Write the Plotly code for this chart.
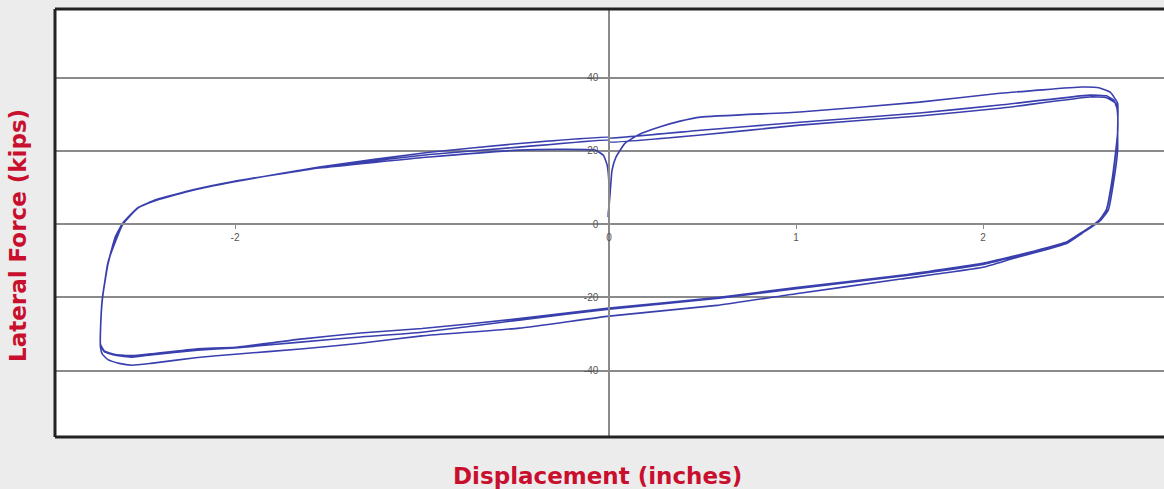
import plotly.graph_objects as go

# ---- data (displacement in inches, force in kips) ----
# cycle 1: initial loading, top upper-right branch, lowest lower branch
c1_x = [-0.005, 0.005, 0.016, 0.037, 0.086, 0.166, 0.27, 0.38, 0.49, 1.02, 1.66, 2.09, 2.53, 2.62, 2.68, 2.72,
        2.72, 2.72, 2.70, 2.67, 2.63, 2.53, 2.45, 2.27, 2.16, 2.0, 1.56, 1.0, 0.59, 0.0, -0.48, -1.0, -1.33,
        -1.65, -2.0, -2.2, -2.45, -2.55, -2.62, -2.68, -2.71, -2.72, -2.72, -2.71, -2.68, -2.63, -2.60,
        -2.52, -2.42, -2.22, -2.01, -1.55, -0.96, -0.48, 0.0]
c1_y = [1.9, 7.9, 14.7, 18.3, 22.1, 24.6, 26.5, 28.1, 29.2, 30.6, 33.3, 35.7, 37.4, 37.2, 36.0, 33.0,
        25.6, 20.2, 12.0, 3.8, 1.1, -2.5, -5.2, -7.9, -9.4, -11.8, -15.0, -19.0, -22.1, -25.1, -28.4, -30.5,
        -32.5, -34.1, -35.5, -36.4, -38.0, -38.5, -38.0, -37.0, -35.5, -33.6, -29.7, -20.7, -10.5, -3.5, 0.0,
        4.4, 6.5, 9.3, 11.5, 15.6, 19.6, 22.0, 23.7]

# cycle 2
c2_x = [0.0, 0.49, 1.02, 1.66, 2.09, 2.57, 2.66, 2.70, 2.72, 2.72, 2.71, 2.69, 2.66, 2.62, 2.53, 2.45,
        2.27, 2.16, 2.0, 1.56, 1.0, 0.59, 0.0, -0.48, -1.0, -1.33, -1.65, -2.0, -2.2, -2.45, -2.55, -2.64,
        -2.70, -2.72, -2.72, -2.71, -2.68, -2.64, -2.60, -2.52, -2.42, -2.22, -2.01, -1.55, -0.96, -0.48, 0.0]
c2_y = [23.5, 25.6, 27.8, 30.3, 32.5, 35.2, 35.0, 33.8, 31.0, 25.0, 20.0, 12.0, 4.0, 1.0, -2.3, -4.9,
        -7.6, -9.0, -11.0, -14.2, -17.6, -20.2, -23.2, -26.2, -29.5, -30.8, -32.2, -33.8, -34.4, -35.7, -36.3,
        -35.8, -34.8, -33.0, -29.5, -20.5, -11.0, -3.6, 0.2, 4.4, 6.6, 9.3, 11.6, 15.5, 19.0, 21.0, 22.9]

# cycle 3 and return to zero
c3_x = [0.0, 0.49, 1.02, 1.66, 2.09, 2.57, 2.66, 2.71, 2.72, 2.72, 2.71, 2.69, 2.66, 2.62, 2.53, 2.45,
        2.27, 2.16, 2.0, 1.56, 1.0, 0.59, 0.0, -0.48, -1.0, -1.33, -1.65, -2.0, -2.2, -2.45, -2.55, -2.64,
        -2.70, -2.72, -2.72, -2.71, -2.68, -2.64, -2.60, -2.52, -2.42, -2.22, -2.01, -1.55, -0.96, -0.48,
        -0.25, -0.075, -0.03, -0.01, 0.0, 0.0, -0.005]
c3_y = [22.4, 24.3, 27.0, 29.5, 31.6, 34.7, 34.5, 33.0, 30.0, 24.5, 19.5, 11.5, 3.8, 0.8, -2.2, -4.8,
        -7.4, -8.8, -10.7, -14.0, -17.3, -20.0, -22.9, -25.8, -28.5, -29.7, -31.4, -33.6, -34.0, -35.4, -35.9,
        -35.6, -34.6, -32.8, -29.3, -20.3, -10.8, -3.4, 0.3, 4.5, 6.7, 9.4, 11.6, 15.3, 18.3, 20.2,
        20.4, 20.2, 18.8, 16.1, 10.6, 5.2, 2.5]

x_ticks = [-2, 0, 1, 2]
x_tick_labels = ["-2", "0", "1", "2"]
y_ticks = [-40, -20, 0, 20, 40]
y_tick_labels = ["-40", "-20", "0", "20", "40"]
x_range = [-2.963, 2.968]
y_range = [-58.1, 58.7]

disp = c1_x + c2_x + c3_x
force = c1_y + c2_y + c3_y

fig = go.Figure()
fig.add_trace(go.Scatter(x=disp, y=force, mode="lines",
                         line=dict(color="#3a3fae", width=1.6, shape="spline", smoothing=0.4),
                         showlegend=False, hoverinfo="skip"))

tick_font = dict(family="Liberation Sans, Arial, sans-serif", size=10, color="#555555")
x_pos = (0 - y_range[0]) / (y_range[1] - y_range[0])
y_pos = (0 - x_range[0]) / (x_range[1] - x_range[0])

title_font = dict(family="DejaVu Sans, sans-serif", size=23, color="#c8102e", weight="bold")

fig.update_layout(
    width=1164, height=489,
    margin=dict(l=55, r=0, t=9, b=52),
    paper_bgcolor="#ececec",
    plot_bgcolor="#ffffff",
    xaxis=dict(range=x_range, tickvals=x_ticks, ticktext=x_tick_labels, showgrid=False, zeroline=False,
               anchor="free", position=x_pos, showline=True, linecolor="#8a8a8a", linewidth=1.5,
               ticks="outside", ticklen=4, tickcolor="#8a8a8a", tickfont=tick_font),
    yaxis=dict(range=y_range, tickvals=y_ticks, ticktext=y_tick_labels, showgrid=True, gridcolor="#8a8a8a",
               gridwidth=1.5, zeroline=False, anchor="free", position=y_pos, showline=True,
               linecolor="#8a8a8a", linewidth=1.5, ticks="outside", ticklen=4, tickcolor="#8a8a8a",
               tickfont=tick_font, ticklabelstandoff=4),
    shapes=[
        dict(type="line", xref="paper", yref="paper", x0=0, x1=0, y0=0, y1=1, line=dict(color="#222222", width=3)),
        dict(type="line", xref="paper", yref="paper", x0=0, x1=1, y0=1, y1=1, line=dict(color="#222222", width=3)),
        dict(type="line", xref="paper", yref="paper", x0=0, x1=1, y0=0, y1=0, line=dict(color="#222222", width=3)),
    ],
    annotations=[
        dict(text="Lateral Force (kips)", xref="paper", yref="paper", x=-0.0334, y=0.472,
             textangle=-90, showarrow=False, xanchor="center", yanchor="middle", font=title_font),
        dict(text="Displacement (inches)", xref="paper", yref="paper", x=(597 - 55) / 1109, y=-0.091,
             showarrow=False, xanchor="center", yanchor="middle", font=title_font),
    ],
)

fig.write_html("out.html", config={"displayModeBar": False},
               post_script="document.body.style.margin='0';document.body.style.overflow='hidden';")
